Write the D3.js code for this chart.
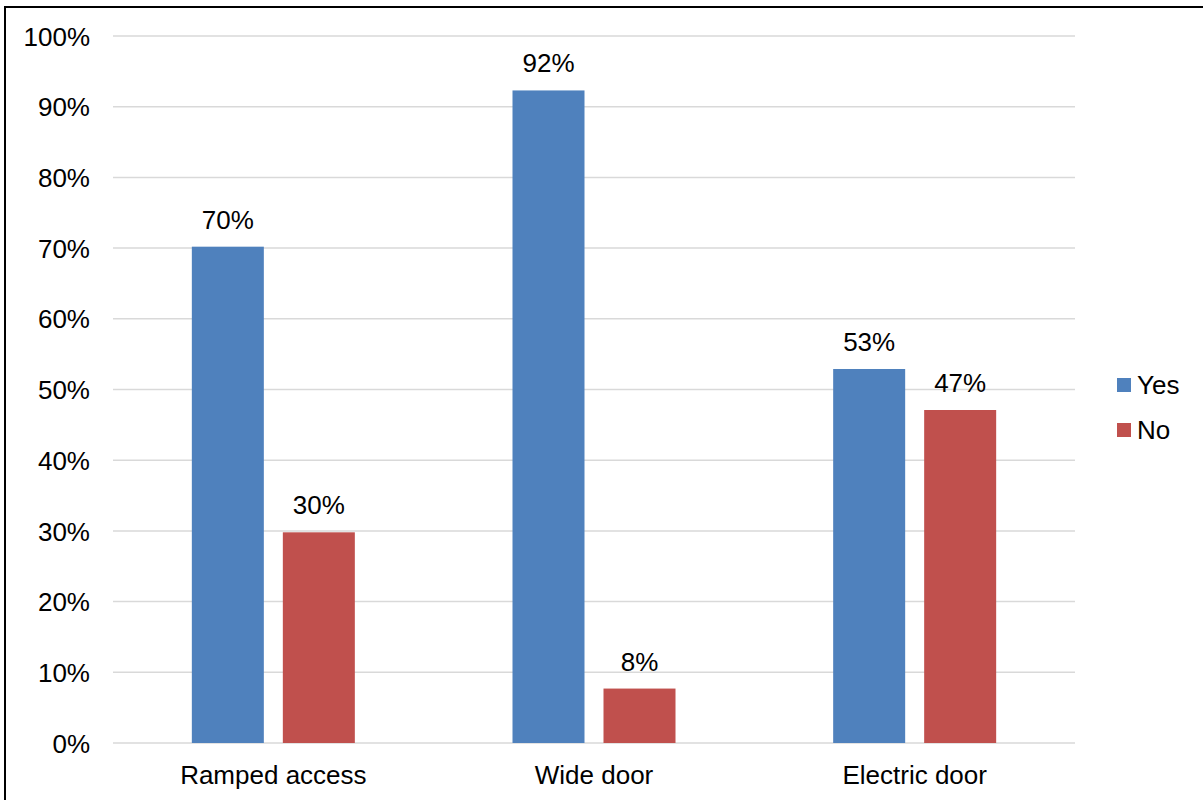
<!DOCTYPE html>
<html>
<head>
<meta charset="utf-8">
<script src="https://cdn.jsdelivr.net/npm/d3@7"></script>
<style>
  html, body { margin: 0; padding: 0; background: #fff; }
  svg { display: block; }
  text { font-family: "Liberation Sans", Arial, sans-serif; fill: #000; }
</style>
</head>
<body>
<svg id="chart" width="1203" height="800"></svg>
<script>
// Share of venues offering each accessibility feature
const categories = ["Ramped access", "Wide door", "Electric door"];
const seriesNames = ["Yes", "No"];
const yesValues = [70.2, 92.3, 52.9];
const noValues = [29.8, 7.7, 47.1];
const yTicks = [0, 10, 20, 30, 40, 50, 60, 70, 80, 90, 100];
const colors = ["#4F81BD", "#C0504D"];

const svg = d3.select("#chart");
const W = 1203, H = 800;
const fontSize = 26;

// outer frame (left and top edges visible)
svg.append("path")
  .attr("d", `M5,${H} L5,7 L${W},7`)
  .attr("fill", "none")
  .attr("stroke", "#000")
  .attr("stroke-width", 2);

const x0 = 113, x1 = 1075, yTop = 36, yBot = 743;

const x = d3.scaleBand().domain(categories).range([x0, x1]).paddingInner(0).paddingOuter(0);
const y = d3.scaleLinear().domain([0, 100]).range([yBot, yTop]);

// gridlines
svg.append("g")
  .selectAll("line")
  .data(yTicks)
  .join("line")
  .attr("x1", x0).attr("x2", x1)
  .attr("y1", d => y(d)).attr("y2", d => y(d))
  .attr("stroke", "#D9D9D9")
  .attr("stroke-width", 1.5);

// y axis labels
const yAxis = d3.axisLeft(y).tickValues(yTicks).tickSize(0).tickPadding(23).tickFormat(d => d + "%");
const yg = svg.append("g").attr("transform", `translate(${x0},0)`).call(yAxis);
yg.select(".domain").remove();
yg.selectAll("text")
  .attr("font-size", fontSize)
  .attr("font-family", "Liberation Sans, Arial, sans-serif")
  .attr("fill", "#000")
  .attr("dy", "0.35em");

// x axis labels
const xAxis = d3.axisBottom(x).tickSize(0).tickPadding(0);
const xg = svg.append("g").attr("transform", `translate(0,${yBot})`).call(xAxis);
xg.select(".domain").remove();
xg.selectAll("text")
  .attr("font-size", fontSize)
  .attr("font-family", "Liberation Sans, Arial, sans-serif")
  .attr("fill", "#000")
  .attr("y", 41)
  .attr("dy", 0);

// bars: two per category, fixed width with a small gap, centred in the band
const barW = 72, gap = 19;
const series = [yesValues, noValues];
const groupOffset = (x.bandwidth() - (barW * 2 + gap)) / 2;

const rows = [];
categories.forEach((c, i) => {
  seriesNames.forEach((s, j) => {
    rows.push({ cat: c, s, v: series[j][i], j });
  });
});

const bx = d => x(d.cat) + groupOffset + d.j * (barW + gap);

svg.append("g")
  .selectAll("rect")
  .data(rows)
  .join("rect")
  .attr("x", bx)
  .attr("width", barW)
  .attr("y", d => y(d.v))
  .attr("height", d => y(0) - y(d.v))
  .attr("fill", d => colors[d.j]);

// value labels
svg.append("g")
  .selectAll("text")
  .data(rows)
  .join("text")
  .attr("x", d => bx(d) + barW / 2)
  .attr("y", d => y(d.v) - 18)
  .attr("text-anchor", "middle")
  .attr("font-size", fontSize)
  .text(d => Math.round(d.v) + "%");

// legend
const lg = svg.append("g").attr("transform", "translate(1117,378)");
seriesNames.forEach((s, i) => {
  const g = lg.append("g").attr("transform", `translate(0,${i * 45})`);
  g.append("rect").attr("width", 14).attr("height", 14).attr("fill", colors[i]);
  g.append("text").attr("x", 20).attr("y", 7).attr("dy", "0.35em")
    .attr("font-size", fontSize).text(s);
});
</script>
</body>
</html>
